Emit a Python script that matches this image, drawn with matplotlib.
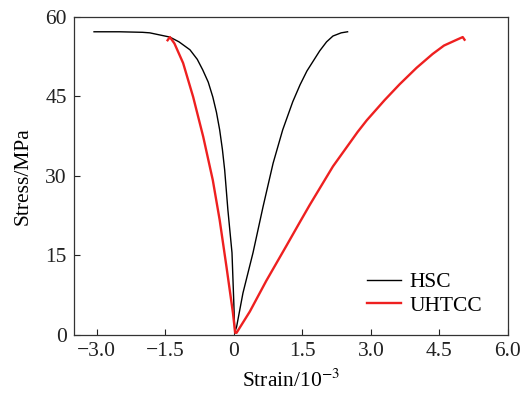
import numpy as np
import matplotlib
matplotlib.use('Agg')
import matplotlib.pyplot as plt

# HSC curve (compression branch then tension branch), strain in 1e-3
hsc_strain = [-3.06, -2.5, -2.0, -1.84, -1.40, -1.2, -0.96, -0.80, -0.68, -0.56, -0.46, -0.38, -0.31, -0.25,
              -0.20, -0.13, -0.04, 0.0, 0.02,
              0.06, 0.20, 0.42, 0.64, 0.86, 1.07, 1.29, 1.45, 1.60, 1.88, 2.03, 2.17, 2.35, 2.49]
hsc_stress = [57.2, 57.2, 57.1, 57.0, 56.2, 55.3, 53.8, 52.0, 50.0, 47.7, 44.9, 42.0, 38.7, 35.0,
              31.1, 23.6, 15.5, 6.0, 0.5,
              1.5, 7.9, 15.5, 24.2, 32.4, 38.7, 44.0, 47.2, 49.8, 53.6, 55.3, 56.4, 57.0, 57.2]

# UHTCC curve
uhtcc_strain = [-1.45, -1.40, -1.30, -1.11, -0.89, -0.67, -0.46, -0.31, -0.16, -0.02, 0.03,
                0.06, 0.35, 0.71, 1.15, 1.44, 1.66, 2.17, 2.71, 2.91, 3.30, 3.63, 4.00, 4.35, 4.60, 4.88, 5.01, 5.05]
uhtcc_stress = [55.6, 56.2, 55.0, 51.3, 44.9, 37.4, 29.2, 21.7, 12.8, 4.2, 0.4,
                0.4, 4.4, 10.2, 16.8, 21.2, 24.5, 31.8, 38.3, 40.5, 44.3, 47.3, 50.4, 53.0, 54.6, 55.7, 56.2, 55.7]

plt.rcParams['font.family'] = ['Liberation Serif', 'DejaVu Serif']
plt.rcParams['mathtext.fontset'] = 'stix'

fig = plt.figure(figsize=(5.28, 3.94), dpi=100)
ax = fig.add_axes([0.140, 0.150, 0.822, 0.807])

ax.plot(hsc_strain, hsc_stress, color='black', lw=1.0, label='HSC')
ax.plot(uhtcc_strain, uhtcc_stress, color='#ee2020', lw=1.7, label='UHTCC')

ax.set_xlim(-3.5, 6.0)
ax.set_ylim(0, 60)
ax.set_xticks([-3.0, -1.5, 0, 1.5, 3.0, 4.5, 6.0])
ax.set_xticklabels(['\u22123.0', '\u22121.5', '0', '1.5', '3.0', '4.5', '6.0'])
ax.set_yticks([0, 15, 30, 45, 60])
ax.tick_params(direction='in', labelsize=15.5, length=4, width=0.8, colors='#222222', pad=5)
for s in ax.spines.values():
    s.set_linewidth(0.9)
    s.set_color('#333333')

ax.set_xlabel('Strain/10$^{-3}$', fontsize=15.5, labelpad=6)
ax.set_ylabel('Stress/MPa', fontsize=15.5, labelpad=9)

ax.legend(loc='lower right', frameon=False, fontsize=15.5, handlelength=1.55,
          handletextpad=0.4, labelspacing=0.15, bbox_to_anchor=(0.985, 0.0))

fig.savefig('out.png', dpi=100)
